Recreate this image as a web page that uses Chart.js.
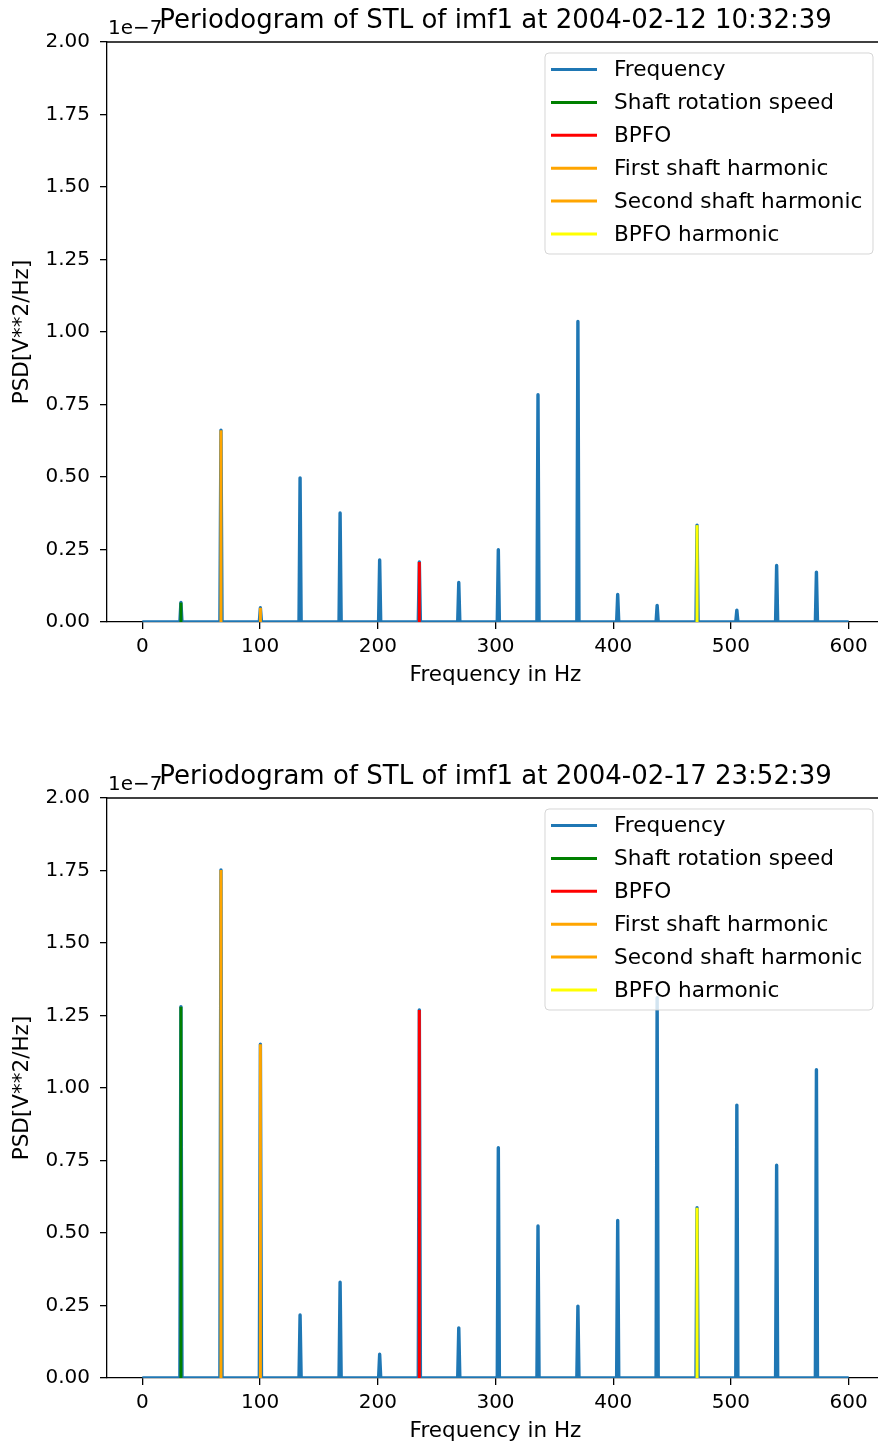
<!DOCTYPE html>
<html>
<head>
<meta charset="utf-8">
<script src="https://cdn.jsdelivr.net/npm/chart.js@4.4.0/dist/chart.umd.min.js"></script>
<style>
  html, body { margin: 0; padding: 0; background: #fff; overflow: hidden; }
  canvas { display: block; }
</style>
</head>
<body>
<canvas id="feb12" width="890" height="756"></canvas>
<canvas id="feb17" width="890" height="688"></canvas>
<script>
// peak frequencies (Hz), same for both periodograms
const peakHz = [32.8, 66.8, 100.3, 134.0, 168.0, 201.6, 235.3, 268.8, 302.4,
                336.1, 370.0, 403.8, 437.3, 471.2, 505.0, 538.8, 572.6];
// peak heights in units of 1e-7 V**2/Hz
const psdFeb12 = [0.067, 0.661, 0.049, 0.497, 0.376, 0.214, 0.207, 0.136, 0.249,
                  0.784, 1.036, 0.095, 0.057, 0.334, 0.041, 0.195, 0.172];
const psdFeb17 = [1.280, 1.752, 1.151, 0.217, 0.330, 0.082, 1.269, 0.173, 0.794,
                  0.524, 0.248, 0.543, 1.311, 0.587, 0.941, 0.734, 1.063];

const titles = ["Periodogram of STL of imf1 at 2004-02-12 10:32:39",
                "Periodogram of STL of imf1 at 2004-02-17 23:52:39"];

// marker lines, drawn on top of the peak they belong to
const markerLabels = ["Shaft rotation speed", "BPFO", "First shaft harmonic",
                      "Second shaft harmonic", "BPFO harmonic"];
const markerPeak = [0, 6, 1, 2, 13];
const markerColors = ["#008000", "#ff0000", "#ffa500", "#ffa500", "#ffff00"];
const legendOrder = ["Frequency", "Shaft rotation speed", "BPFO", "First shaft harmonic",
                     "Second shaft harmonic", "BPFO harmonic"];

const xTicks = [0, 100, 200, 300, 400, 500, 600];
const yTicks = [0, 0.25, 0.5, 0.75, 1.0, 1.25, 1.5, 1.75, 2.0];

const FONT = "DejaVu Sans";
const BLUE = "#1f77b4";

function spikeTrace(hz, vals) {
  const half = 0.9;
  const pts = [{ x: 0, y: 0 }];
  hz.forEach((f, i) => {
    pts.push({ x: f - half, y: 0 }, { x: f, y: vals[i] }, { x: f + half, y: 0 });
  });
  pts.push({ x: 600, y: 0 });
  return pts;
}

const decorations = {
  id: "decorations",
  beforeDatasetsDraw(chart) {
    const { ctx, chartArea: a } = chart;
    ctx.save();
    ctx.strokeStyle = "#000";
    ctx.lineWidth = 1.3;
    ctx.beginPath();
    ctx.moveTo(a.left, a.top);
    ctx.lineTo(a.right, a.top);
    ctx.stroke();
    ctx.restore();
  },
  afterDatasetsDraw(chart, args, opts) {
    const { ctx, chartArea: a } = chart;
    ctx.save();
    // legend box, upper right
    const w = 328, h = 201;
    const x0 = a.right - 11 - w, y0 = a.top + 11, r = 4;
    ctx.beginPath();
    ctx.moveTo(x0 + r, y0);
    ctx.arcTo(x0 + w, y0, x0 + w, y0 + h, r);
    ctx.arcTo(x0 + w, y0 + h, x0, y0 + h, r);
    ctx.arcTo(x0, y0 + h, x0, y0, r);
    ctx.arcTo(x0, y0, x0 + w, y0, r);
    ctx.closePath();
    ctx.fillStyle = "rgba(255,255,255,0.8)";
    ctx.fill();
    ctx.strokeStyle = "rgba(204,204,204,0.8)";
    ctx.lineWidth = 1;
    ctx.stroke();

    ctx.font = "21.6px '" + FONT + "'";
    ctx.textBaseline = "middle";
    ctx.textAlign = "left";
    legendOrder.forEach((lab, i) => {
      const ds = chart.data.datasets.find(d => d.label === lab);
      const yy = y0 + 16.5 + i * 32.9;
      ctx.strokeStyle = ds.borderColor;
      ctx.lineWidth = 3;
      ctx.beginPath();
      ctx.moveTo(x0 + 6, yy);
      ctx.lineTo(x0 + 52, yy);
      ctx.stroke();
      ctx.fillStyle = "#000";
      ctx.fillText(lab, x0 + 69, yy + 1);
    });

    // title and offset text
    ctx.textBaseline = "alphabetic";
    ctx.fillStyle = "#000";
    ctx.font = "20px '" + FONT + "'";
    ctx.fillText("1e\u22127", a.left + 1, a.top - 8);
    ctx.font = "26px '" + FONT + "'";
    ctx.textAlign = "center";
    ctx.fillText(opts.title, (a.left + a.right) / 2, a.top - 14);
    ctx.restore();
  }
};

function makeChart(id, psd, title, bottomPad) {
  const datasets = [{
    label: "Frequency",
    data: spikeTrace(peakHz, psd),
    borderColor: BLUE,
    borderWidth: 3.4,
    order: 1
  }];
  markerLabels.forEach((lab, i) => {
    const k = markerPeak[i];
    datasets.push({
      label: lab,
      data: [{ x: peakHz[k], y: 0 }, { x: peakHz[k], y: psd[k] }],
      borderColor: markerColors[i],
      borderWidth: 3,
      order: 0
    });
  });

  const axisGrid = { drawOnChartArea: false, drawTicks: true, tickLength: 7, color: "#000", lineWidth: 1.3 };
  const axisBorder = { display: true, color: "#000", width: 1.3 };

  return new Chart(document.getElementById(id), {
    type: "line",
    data: { datasets },
    options: {
      responsive: false,
      animation: false,
      events: [],
      layout: { padding: { top: 42, right: 6, left: 0, bottom: bottomPad } },
      elements: {
        point: { radius: 0 },
        line: { tension: 0, borderJoinStyle: "round", borderCapStyle: "butt", fill: false }
      },
      plugins: {
        legend: { display: false },
        tooltip: { enabled: false },
        decorations: { title }
      },
      scales: {
        x: {
          type: "linear",
          min: -30,
          max: 630,
          afterBuildTicks: s => { s.ticks = xTicks.map(v => ({ value: v })); },
          afterFit: s => { s.height = 66; },
          ticks: { color: "#000", padding: 6, maxRotation: 0, autoSkip: false,
                   font: { family: FONT, size: 20 } },
          grid: axisGrid,
          border: axisBorder,
          title: { display: true, text: "Frequency in Hz", color: "#000",
                   font: { family: FONT, size: 21.5 }, padding: { top: 0, bottom: 0 } }
        },
        y: {
          type: "linear",
          min: 0,
          max: 2,
          afterBuildTicks: s => { s.ticks = yTicks.map(v => ({ value: v })); },
          afterFit: s => { s.width = 107; },
          ticks: { color: "#000", padding: 10, autoSkip: false,
                   callback: v => Number(v).toFixed(2),
                   font: { family: FONT, size: 20 } },
          grid: axisGrid,
          border: axisBorder,
          title: { display: true, text: "PSD[V**2/Hz]", color: "#000",
                   font: { family: FONT, size: 21.5 }, padding: { top: 10, bottom: 0 } }
        }
      }
    },
    plugins: [decorations]
  });
}

makeChart("feb12", psdFeb12, titles[0], 68);
makeChart("feb17", psdFeb17, titles[1], 0);
</script>
</body>
</html>
